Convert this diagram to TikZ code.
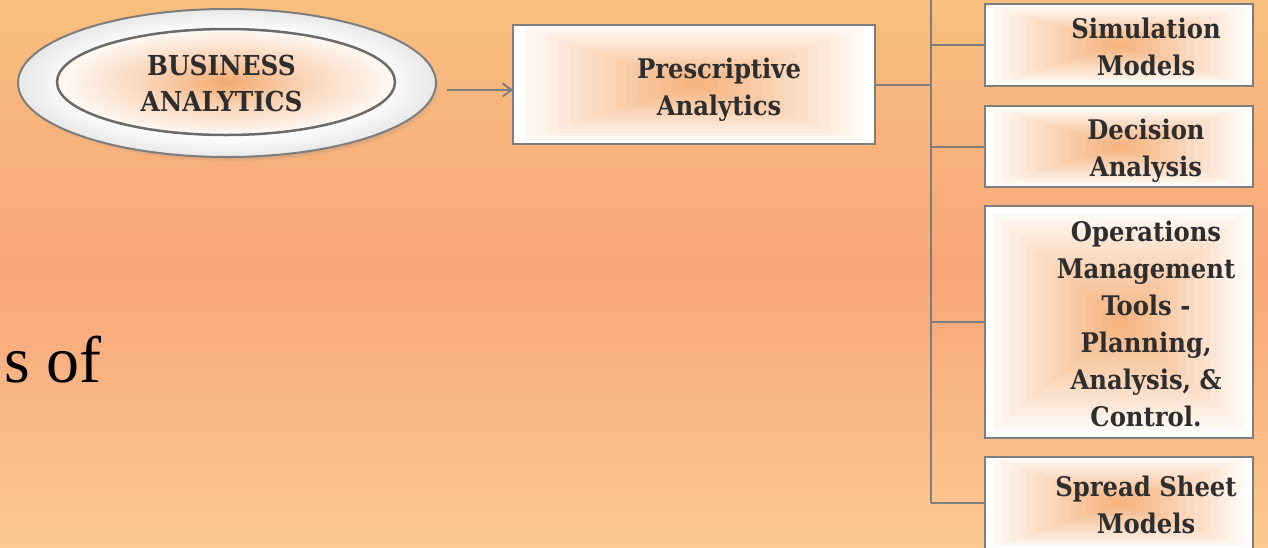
\documentclass[tikz,border=0pt]{standalone}
\usepackage{fontspec}
\setmainfont{Liberation Serif}
\newfontfamily\boxfont{DejaVu Serif Condensed}
\usetikzlibrary{shapes.geometric,shadows,calc,arrows.meta}

\definecolor{bgtop}{RGB}{248,192,126}
\definecolor{bgmid}{RGB}{249,166,122}
\definecolor{bgbot}{RGB}{251,201,146}
\definecolor{edgegray}{RGB}{126,126,126}
\definecolor{inkgray}{RGB}{46,46,46}
\definecolor{glow}{RGB}{244,168,108}

% soft white disc with a faint grey rim
\pgfdeclareradialshading{outerdisc}{\pgfpointorigin}{color(0bp)=(white); color(18bp)=(white); color(25bp)=(black!9); color(50bp)=(black!9)}
% orange glow fading to white at the rim
\pgfdeclareradialshading{innerglow}{\pgfpointorigin}{color(0bp)=(glow); color(10bp)=(glow!55!white); color(25bp)=(glow!6!white); color(50bp)=(glow!6!white)}

\begin{document}
\begin{tikzpicture}[x=1pt, y=-1pt,
  wire/.style={draw=edgegray, line width=2pt},
  glowbox/.style={rectangle, fill=white, inner sep=0pt},
  boxedge/.style={draw=edgegray, line width=2pt},
  boxtext/.style={font=\boxfont\bfseries\fontsize{27}{37}\selectfont,
    text=inkgray, align=center, inner sep=0pt},
]
\useasboundingbox (0,0) rectangle (1268,547);
\begin{scope}
\clip (0,0) rectangle (1268,547);

% background
\shade[top color=bgtop, bottom color=bgbot, middle color=bgmid] (0,0) rectangle (1268,547);

% left-hand body text
\node[font=\fontsize{66}{66}\selectfont, anchor=base west, inner sep=0pt] (sof) at (4,382) {s of};

% root ellipse
\node[ellipse, draw=edgegray, line width=2pt, minimum width=418pt, minimum height=148pt,
  inner sep=0pt, shade, shading=outerdisc,
  circular drop shadow={shadow xshift=4pt, shadow yshift=-5pt, shadow scale=1.0, opacity=0.6}]
  (ba) at (227,83) {};
\node[ellipse, draw=edgegray!85!black, line width=2.5pt, minimum width=338pt, minimum height=106pt,
  inner sep=0pt, shade, shading=innerglow] (bain) at (226,82) {};
\node[boxtext, font=\boxfont\bfseries\fontsize{27.5}{36}\selectfont] (baT) at (221.5,83) {BUSINESS\\ANALYTICS};

% boxes
\node[glowbox, minimum width=361pt, minimum height=118pt] (pa) at (694,84.5) {};
\node[glowbox, minimum width=267pt, minimum height=81pt] (sim) at (1119,45) {};
\node[glowbox, minimum width=267pt, minimum height=80pt] (dec) at (1119,146.5) {};
\node[glowbox, minimum width=267pt, minimum height=231pt] (ops) at (1119,322) {};
\node[glowbox, minimum width=267pt, minimum height=92pt] (ssm) at (1119,503) {};

% stepped rectangular glow from each box centre, then the box outline
\foreach \bx in {pa,sim,dec,ops,ssm}{
  \foreach \k in {15,...,1}{
    \pgfmathsetmacro\fr{\k/16}
    \pgfmathtruncatemacro\pct{round(92*(1-\fr)^0.9)}
    \fill[glow!\pct!white] ($(\bx.center)!\fr!(\bx.south west)$) rectangle ($(\bx.center)!\fr!(\bx.north east)$);
  }
  \draw[boxedge] (\bx.south west) rectangle (\bx.north east);
}

% box labels
\node[boxtext] (paT) at ($(pa.center)+(25,5)$) {Prescriptive\\Analytics};
\node[boxtext] (simT) at ($(sim.center)+(27,1.5)$) {Simulation\\Models};
\node[boxtext] (decT) at ($(dec.center)+(27,4)$) {Decision\\Analysis};
\node[boxtext] (opsT) at ($(ops.center)+(27,1.5)$) {Operations\\Management\\Tools -\\Planning,\\Analysis, \&\\Control.};
\node[boxtext] (ssmT) at ($(ssm.center)+(27,1.5)$) {Spread Sheet\\Models};

% connectors
\coordinate (arrStart) at (447,90);
\draw[wire, -{Straight Barb[length=9pt, width=13pt]}] (arrStart) -- (arrStart -| pa.west);

\coordinate (spineTop) at (931,-3);
\coordinate (spineBot) at (931,503);
\draw[wire] (spineTop) -- (spineBot);
\draw[wire] (pa.east) -- (pa.east -| spineTop);
\draw[wire] (sim.west) -- (sim.west -| spineTop);
\draw[wire] (dec.west) -- (dec.west -| spineTop);
\draw[wire] (ops.west) -- (ops.west -| spineTop);
\draw[wire] (ssm.west) -- (ssm.west -| spineTop);
\end{scope}
\end{tikzpicture}
\end{document}
